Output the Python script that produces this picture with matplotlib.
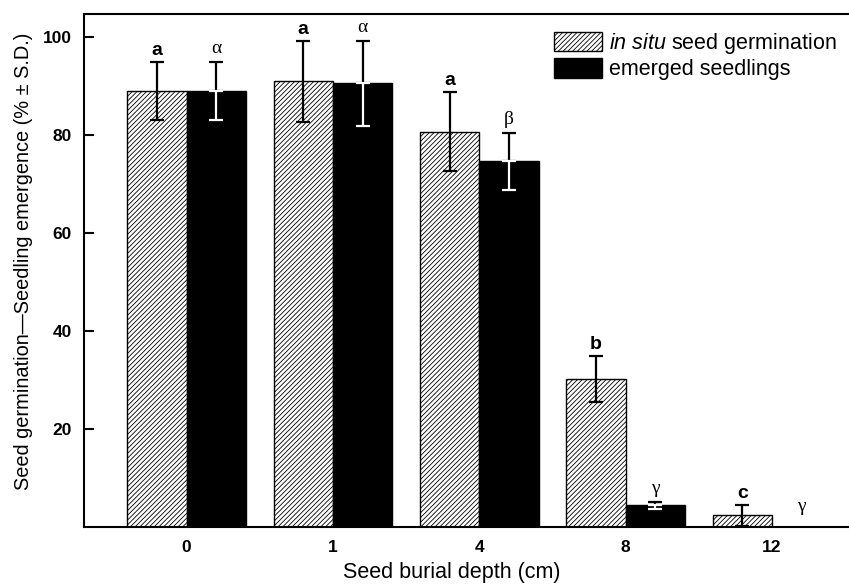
import matplotlib
matplotlib.use("Agg")
import matplotlib.pyplot as plt
import numpy as np

plt.rcParams['font.family'] = ['Liberation Sans', 'DejaVu Sans']
plt.rcParams['mathtext.fontset'] = 'custom'
plt.rcParams['mathtext.it'] = 'Liberation Sans:italic'
plt.rcParams['mathtext.rm'] = 'Liberation Sans'
plt.rcParams['hatch.linewidth'] = 0.6

depths = ['0', '1', '4', '8', '12']
germ_mean = [89.0, 91.0, 80.7, 30.3, 2.4]
germ_sd = [5.9, 8.3, 8.1, 4.7, 2.2]
emerg_mean = [89.0, 90.6, 74.7, 4.5, 0.0]
emerg_sd = [5.9, 8.7, 5.8, 0.7, 0.0]
germ_letters = ['a', 'a', 'a', 'b', 'c']
emerg_letters = ['α', 'α', 'β', 'γ', 'γ']

fig = plt.figure(figsize=(8.49, 5.87), dpi=100)
ax = fig.add_axes([0.099, 0.102, 0.90, 0.874])

x = np.arange(len(depths))
w = 0.405

ax.bar(x - w/2, germ_mean, w, facecolor='white', edgecolor='black',
       hatch='///////', linewidth=1.0, label='$\\it{in\\ situ}$ seed germination', zorder=2)
ax.bar(x + w/2, emerg_mean, w, facecolor='black', edgecolor='black',
       linewidth=1.0, label='emerged seedlings', zorder=2)

# error bars: hatched bars in black; black bars: upper black, lower white
ekw = dict(fmt='none', capsize=4.8, elinewidth=1.6, capthick=1.6, zorder=3)
ax.errorbar(x - w/2, germ_mean, yerr=germ_sd, ecolor='black', **ekw)
em = np.array(emerg_mean); es = np.array(emerg_sd)
mask = es > 0
ax.errorbar((x + w/2)[mask], em[mask], yerr=[np.zeros(mask.sum()), es[mask]], ecolor='black', **ekw)
ax.errorbar((x + w/2)[mask], em[mask], yerr=[es[mask], np.zeros(mask.sum())], ecolor='white', **ekw)

for i in range(len(depths)):
    top = germ_mean[i] + germ_sd[i]
    ax.text(x[i] - w/2, top + 0.6, germ_letters[i], ha='center', va='bottom',
            fontsize=14, fontweight='bold')
    top2 = max(emerg_mean[i] + emerg_sd[i], 1.5)
    ax.text(x[i] + w/2, top2 + 1.0, emerg_letters[i], ha='center', va='bottom',
            fontsize=14, family=['Liberation Serif', 'DejaVu Serif'])

ax.set_xlim(-0.70, 4.52)
ax.set_ylim(0, 104.7)
ax.set_xticks(x)
ax.set_xticklabels(depths, fontsize=12.5, fontweight='bold')
ax.set_yticks([20, 40, 60, 80, 100])
ax.set_yticklabels(['20', '40', '60', '80', '100'], fontsize=12.5, fontweight='bold')
ax.tick_params(axis='y', direction='in', length=7, width=1.5, pad=9)
ax.tick_params(axis='x', length=0, pad=9)
for s in ['left', 'bottom', 'top']:
    ax.spines[s].set_linewidth(1.5)
ax.spines['right'].set_visible(False)

ax.set_xlabel('Seed burial depth (cm)', fontsize=15.5)
ax.set_ylabel('Seed germination—Seedling emergence (% ± S.D.)', fontsize=14.4)
ax.xaxis.set_label_coords(0.481, -0.068)
ax.yaxis.set_label_coords(-0.067, 0.518)

leg = ax.legend(loc='upper right', bbox_to_anchor=(1.004, 0.996), frameon=False, fontsize=15.5,
                handlelength=2.25, handleheight=1.0, handletextpad=0.3, labelspacing=0.1,
                borderaxespad=0.3)

fig.savefig('out.png', dpi=100)
